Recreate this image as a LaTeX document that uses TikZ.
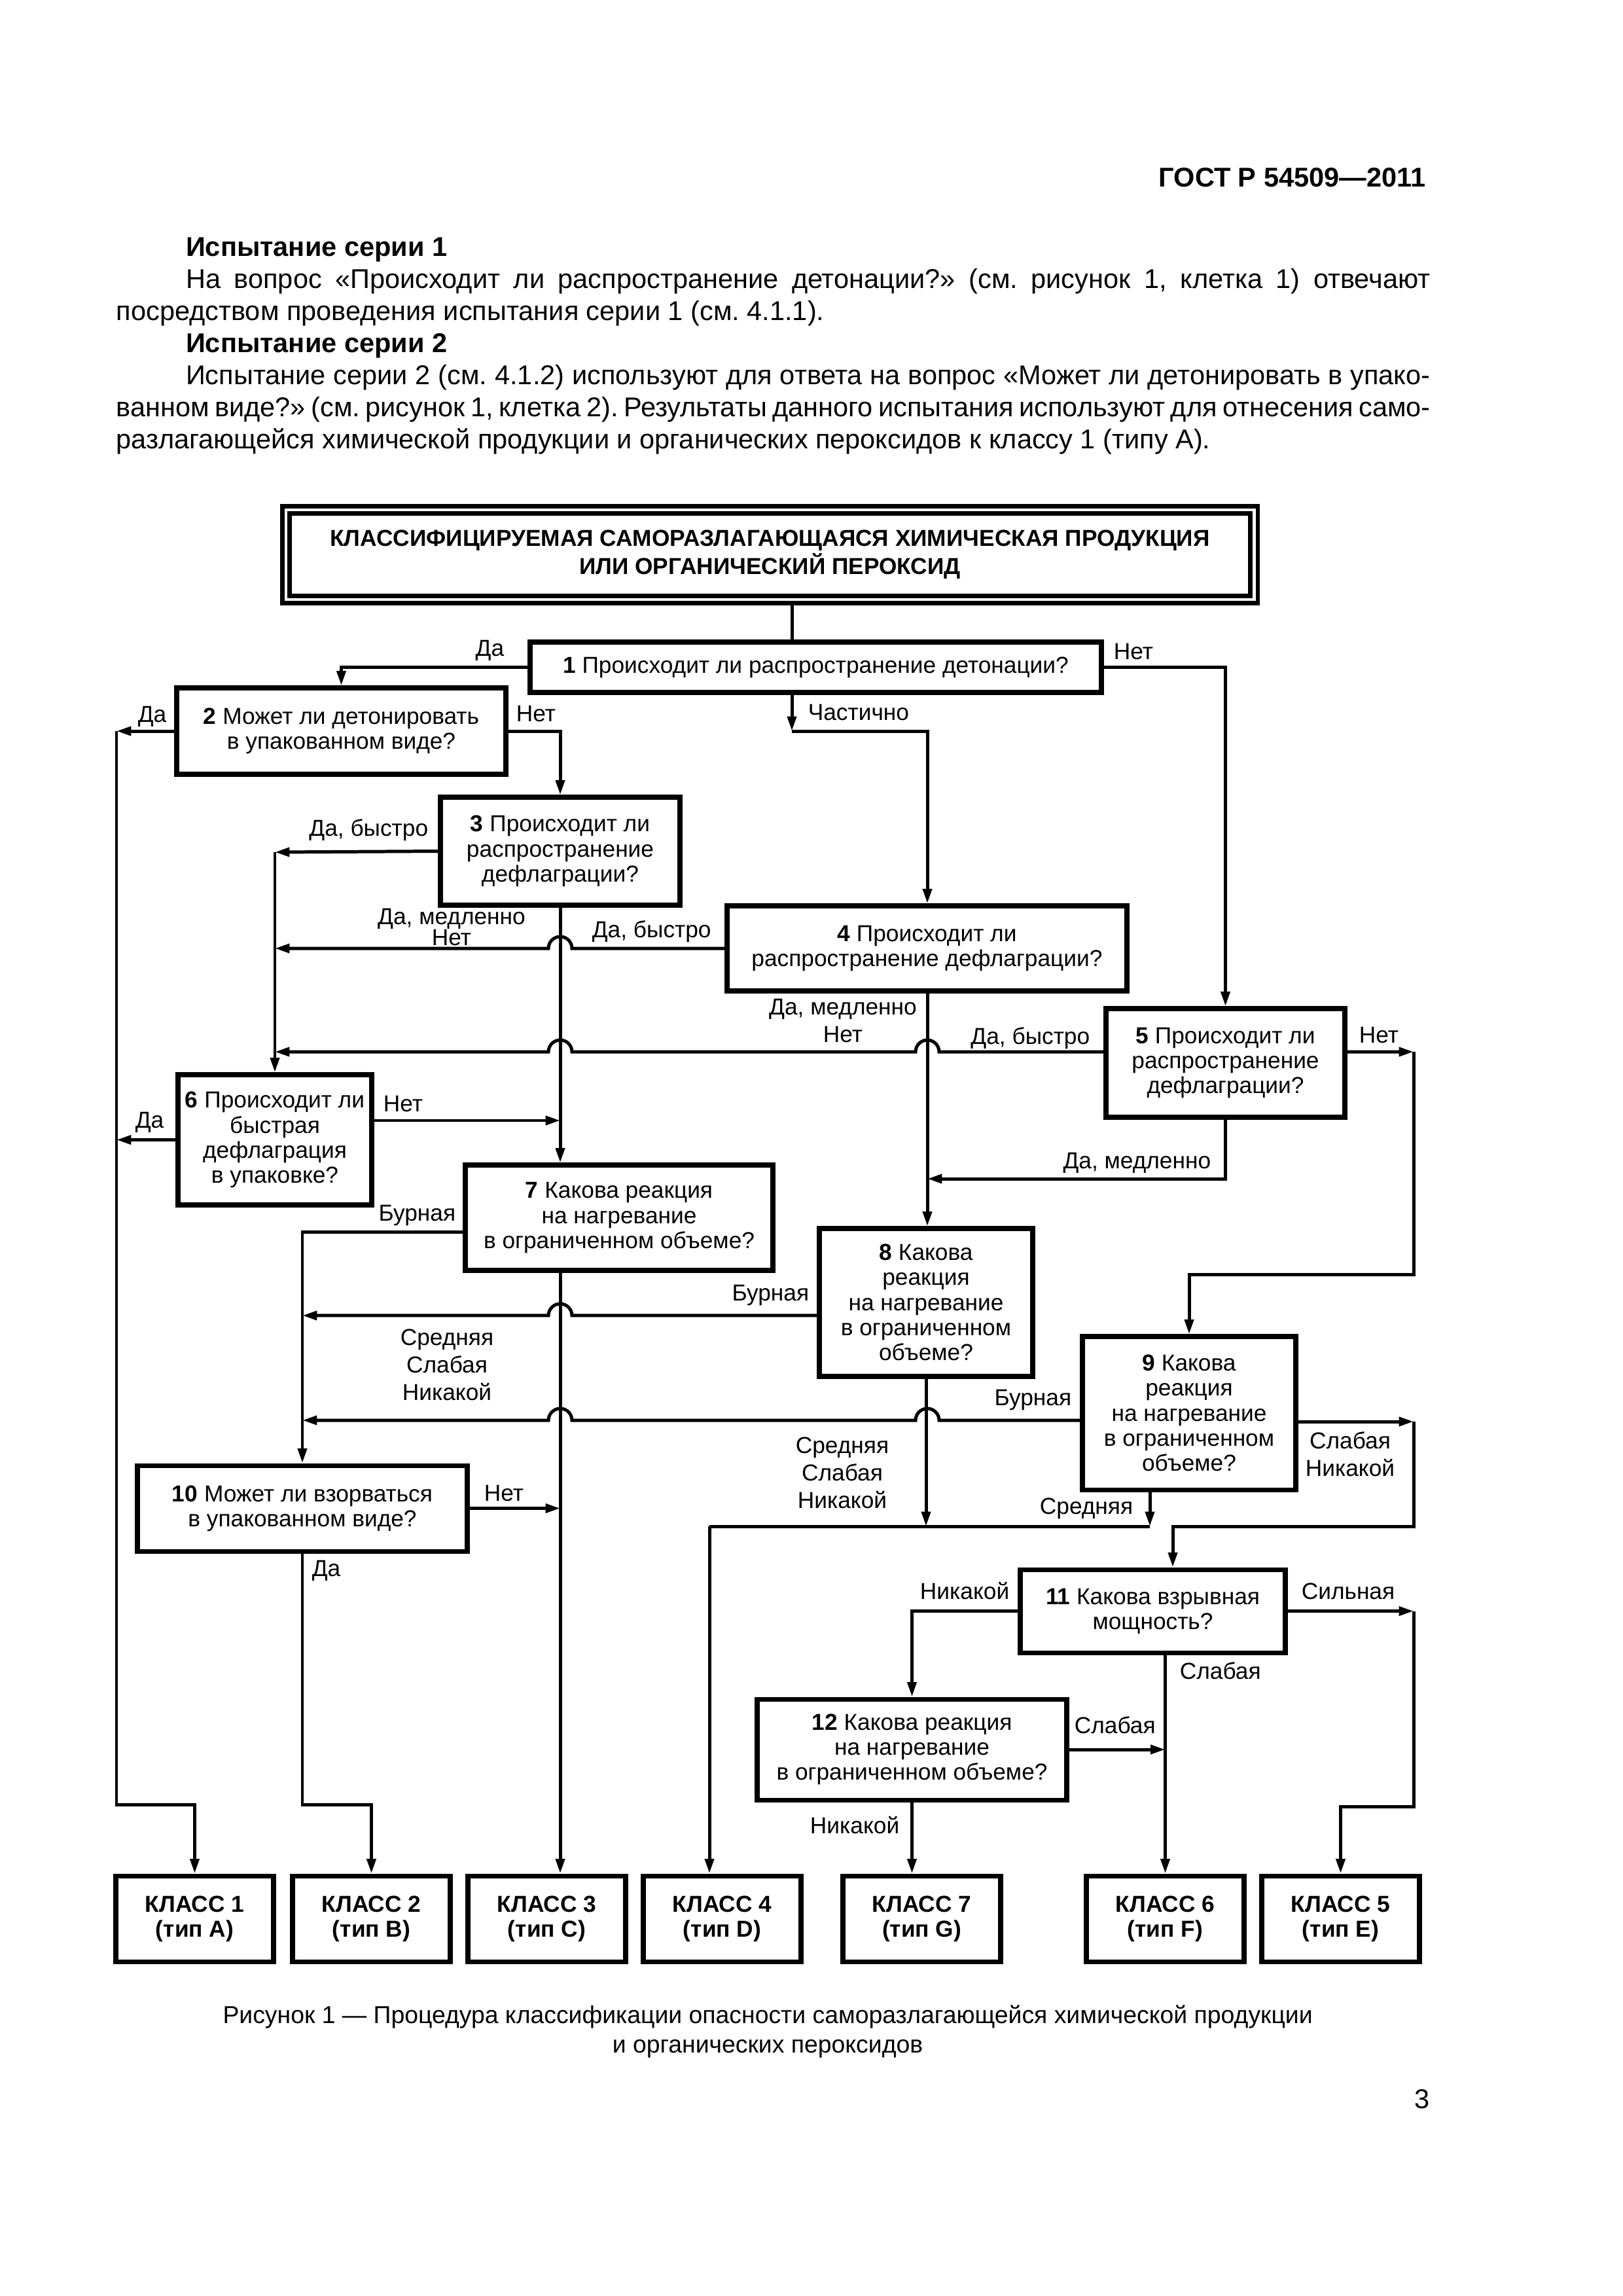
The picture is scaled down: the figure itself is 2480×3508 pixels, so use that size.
\documentclass[tikz,border=0pt]{standalone}
\usepackage{fontspec}
\setmainfont{Liberation Sans}
\usetikzlibrary{arrows.meta}
\def\pxu{0.0846774mm}
\newcommand\diagfont{\fontsize{8.5}{9.2}\selectfont}
\tikzset{
    question-box/.style 2 args = {draw, line width=1.7pt, fill=white, inner sep=0pt, align=center, font=\diagfont, minimum width=#1*\pxu, minimum height=#2*\pxu},
    class-box/.style = {question-box={241}{131}, font=\diagfont\bfseries},
    title-box/.style = {draw, line width=0.59mm, double, double distance=0.42mm, fill=white, inner sep=0pt, outer sep=0.8mm, align=center, font=\fontsize{8.5}{8.9}\selectfont\bfseries, minimum width=1479*\pxu, minimum height=137*\pxu},
    flow-line/.style = {line width=1.2pt},
    flow-arrow/.style = {flow-line, -{Triangle[length=1.9mm, width=1.15mm]}},
    flow-label/.style = {inner sep=0pt, font=\diagfont},
    flow-stack/.style = {inner sep=0pt, align=center, font=\fontsize{8.5}{10.1}\selectfont},
}
\begin{document}
\begin{tikzpicture}[x=\pxu, y=-\pxu]
\useasboundingbox (0,0) rectangle (2480,3508);

\node[anchor=base east, inner sep=0pt, font=\fontsize{10}{12}\selectfont\bfseries] (gost) at (2179,285) {ГОСТ Р 54509—2011};
\node[anchor=north west, inner sep=0pt, text width=170mm, align=justify, font=\fontsize{10}{11.8}\selectfont] (intro) at (177,362) {\setlength{\parindent}{0pt}\frenchspacing
\hspace*{9mm}\textbf{Испытание серии 1}\par
\hspace*{9mm}На вопрос «Происходит ли распространение детонации?» (см. рисунок 1, клетка 1) отвечают\linebreak посредством проведения испытания серии 1 (см. 4.1.1).\par
\hspace*{9mm}\textbf{Испытание серии 2}\par
\hspace*{9mm}Испытание серии 2 (см. 4.1.2) используют для ответа на вопрос «Может ли детонировать в упако-\linebreak {\spaceskip=0.14em plus 0.3em minus 0.02em ванном виде?» (см. рисунок 1, клетка 2). Результаты данного испытания используют для отнесения само-}\linebreak разлагающейся химической продукции и органических пероксидов к классу 1 (типу А).};

\node[title-box] (tb) at (1176.5,847.5) {КЛАССИФИЦИРУЕМАЯ САМОРАЗЛАГАЮЩАЯСЯ ХИМИЧЕСКАЯ ПРОДУКЦИЯ\\ИЛИ ОРГАНИЧЕСКИЙ ПЕРОКСИД};
\node[question-box={873}{77}] (b1) at (1246.5,1019.5) {\textbf{1} Происходит ли распространение детонации?};
\node[question-box={503}{132}] (b2) at (521.5,1117) {\textbf{2} Может ли детонировать\\в упакованном виде?};
\node[question-box={366}{165}] (b3) at (856,1300.5) {\textbf{3} Происходит ли\\распространение\\дефлаграции?};
\node[question-box={611}{130}] (b4) at (1416.5,1449) {\textbf{4} Происходит ли\\распространение дефлаграции?};
\node[question-box={365}{166}] (b5) at (1872.5,1624) {\textbf{5} Происходит ли\\распространение\\дефлаграции?};
\node[question-box={296}{199}] (b6) at (420,1741.5) {\textbf{6} Происходит ли\\быстрая\\дефлаграция\\в упаковке?};
\node[question-box={470}{161}] (b7) at (946,1860.5) {\textbf{7} Какова реакция\\на нагревание\\в ограниченном объеме?};
\node[question-box={326}{226}] (b8) at (1415,1990) {\textbf{8} Какова\\реакция\\на нагревание\\в ограниченном\\объеме?};
\node[question-box={326}{234}] (b9) at (1817,2159) {\textbf{9} Какова\\реакция\\на нагревание\\в ограниченном\\объеме?};
\node[question-box={504}{131}] (b10) at (462,2304.5) {\textbf{10} Может ли взорваться\\в упакованном виде?};
\node[question-box={405}{127}] (b11) at (1761.5,2461.5) {\textbf{11} Какова взрывная\\мощность?};
\node[question-box={473}{154}] (b12) at (1393.5,2673) {\textbf{12} Какова реакция\\на нагревание\\в ограниченном объеме?};

\node[class-box] (c1) at (297.5,2931.5) {КЛАСС 1\\(тип A)};
\node[class-box] (c2) at (567.5,2931.5) {КЛАСС 2\\(тип B)};
\node[class-box] (c3) at (835.5,2931.5) {КЛАСС 3\\(тип C)};
\node[class-box] (c4) at (1103.5,2931.5) {КЛАСС 4\\(тип D)};
\node[class-box] (c7) at (1408.5,2931.5) {КЛАСС 7\\(тип G)};
\node[class-box] (c6) at (1780.5,2931.5) {КЛАСС 6\\(тип F)};
\node[class-box] (c5) at (2048.5,2931.5) {КЛАСС 5\\(тип E)};

\coordinate (k4) at (1210,1117);
\coordinate (k4b) at (1417,1117);
\coordinate (t1) at (178,1117);
\coordinate (t1b) at (178,2757);
\coordinate (t2) at (420,1302);
\coordinate (q5) at (2160,1607);
\coordinate (q9) at (2160,1947);
\coordinate (m8) at (1417,1801);
\coordinate (hl) at (1084,2332);
\coordinate (hr) at (1757,2332);
\coordinate (q11) at (2160,2332);
\coordinate (n11) at (1792,2332);
\coordinate (d10) at (462,2757);
\coordinate (s5) at (2160,2760);
\coordinate (r5) at ([yshift=1.44mm]b5.west);
\coordinate (r5e) at ([yshift=1.44mm]b5.east);
\coordinate (o6) at ([yshift=2.5mm]b6.east);
\coordinate (o7) at ([yshift=-1.82mm]b7.west);
\coordinate (o8) at ([yshift=-1.69mm]b8.west);
\coordinate (o9) at ([yshift=-0.93mm]b9.west);
\coordinate (o9e) at ([yshift=-1.1mm]b9.east);

\draw[flow-line] (tb.south -| k4) -- (b1.north -| k4);
\draw[flow-arrow] (b1.west) -| (b2.north);
\draw[flow-arrow] (b1.east) -| (b5.north);
\draw[flow-arrow] (b1.south -| k4) -- (k4);
\draw[flow-arrow] (k4) -- (k4b) -- (b4.north -| k4b);
\draw[flow-arrow] (b2.west) -- (t1);
\draw[flow-arrow] (t1) -- (t1b) -| (c1.north);
\draw[flow-arrow] (b2.east) -| (b3.north);
\draw[flow-arrow] (b3.west) -- (t2);
\draw[flow-arrow] (t2) -- (b6.north);
\draw[flow-arrow] (b3.south) -- (b7.north -| b3.south);
\draw[flow-arrow] (b7.south -| b3.south) -- (c3.north -| b3.south);
\draw[flow-arrow] (b4.west) -- ([xshift=1.52mm]b3.south |- b4.west) arc[start angle=0, end angle=180, radius=1.52mm] -- (t2 |- b4.west);
\draw[flow-arrow] (b4.south -| k4b) -- (b8.north -| k4b);
\draw[flow-arrow] (r5) -- ([xshift=1.52mm]k4b |- r5) arc[start angle=0, end angle=180, radius=1.52mm] -- ([xshift=1.52mm]b3.south |- r5) arc[start angle=0, end angle=180, radius=1.52mm] -- (t2 |- r5);
\draw[flow-arrow] (r5e) -- (q5);
\draw[flow-arrow] (q5) -- (q9) -| (b9.north);
\draw[flow-arrow] (b5.south) |- (m8);
\draw[flow-arrow] (b6.west) -- (t1 |- b6.west);
\draw[flow-arrow] (o6) -- (o6 -| b3.south);
\draw[flow-arrow] (o7) -| (b10.north);
\draw[flow-arrow] (o8) -- ([xshift=1.52mm]b3.south |- o8) arc[start angle=0, end angle=180, radius=1.52mm] -- (b10.north |- o8);
\draw[flow-arrow] (b8.south) -- (b8.south |- hl);
\draw[flow-line] (hr) -- (hl);
\draw[flow-arrow] (hl) -- (c4.north -| hl);
\draw[flow-arrow] (o9) -- ([xshift=1.52mm]k4b |- o9) arc[start angle=0, end angle=180, radius=1.52mm] -- ([xshift=1.52mm]b3.south |- o9) arc[start angle=0, end angle=180, radius=1.52mm] -- (b10.north |- o9);
\draw[flow-arrow] (o9e) -- (o9e -| q11);
\draw[flow-arrow] (o9e -| q11) -- (q11) -- (n11) -- (b11.north -| n11);
\draw[flow-arrow] (b9.south -| hr) -- (hr);
\draw[flow-arrow] (b10.east) -- (b10.east -| b3.south);
\draw[flow-arrow] (b10.south) -- (d10) -| (c2.north);
\draw[flow-arrow] (b11.west) -| (b12.north);
\draw[flow-arrow] (b11.east) -- (b11.east -| q11);
\draw[flow-arrow] (b11.east -| q11) -- (s5) -| (c5.north);
\draw[flow-arrow] (b11.south -| c6.north) -- (c6.north);
\draw[flow-arrow] (b12.east) -- (b12.east -| c6.north);
\draw[flow-arrow] (b12.south) -- (b12.south |- c7.north);

\node[flow-label, anchor=base east] (l1y) at (771,1002) {Да};
\node[flow-label, anchor=base west] (l1p) at (1234,1100) {Частично};
\node[flow-label, anchor=base west] (l1n) at (1701,1007) {Нет};
\node[flow-label, anchor=base west] (l2y) at (210,1103) {Да};
\node[flow-label, anchor=base west] (l2n) at (788,1102) {Нет};
\node[flow-label, anchor=base east] (l3f) at (655,1277) {Да, быстро};
\node[flow-stack, anchor=north] (l3s) at (690,1387) {Да, медленно\\[-2.2pt]Нет};
\node[flow-label, anchor=base west] (l4f) at (904,1432) {Да, быстро};
\node[flow-stack, anchor=north] (l4s) at (1288,1525) {Да, медленно\\Нет};
\node[flow-label, anchor=base east] (l5f) at (1666,1595) {Да, быстро};
\node[flow-label, anchor=base west] (l5n) at (2076,1593) {Нет};
\node[flow-label, anchor=base east] (l5s) at (1851,1785) {Да, медленно};
\node[flow-label, anchor=base west] (l6y) at (206,1723) {Да};
\node[flow-label, anchor=base west] (l6n) at (585,1698) {Нет};
\node[flow-label, anchor=base east] (l7b) at (697,1865) {Бурная};
\node[flow-stack, anchor=north] (l7r) at (683,2030) {Средняя\\Слабая\\Никакой};
\node[flow-label, anchor=base east] (l8b) at (1237,1987) {Бурная};
\node[flow-stack, anchor=north] (l8r) at (1287,2195) {Средняя\\Слабая\\Никакой};
\node[flow-label, anchor=base east] (l9b) at (1638,2147) {Бурная};
\node[flow-stack, anchor=north] (l9r) at (2063,2187) {Слабая\\Никакой};
\node[flow-label, anchor=base east] (l9m) at (1732,2313) {Средняя};
\node[flow-label, anchor=base west] (l10n) at (739,2293) {Нет};
\node[flow-label, anchor=base west] (l10y) at (476,2408) {Да};
\node[flow-label, anchor=base east] (l11n) at (1543,2443) {Никакой};
\node[flow-label, anchor=base west] (l11s) at (1988,2443) {Сильная};
\node[flow-label, anchor=base west] (l11w) at (1802,2565) {Слабая};
\node[flow-label, anchor=base west] (l12w) at (1641,2648) {Слабая};
\node[flow-label, anchor=base east] (l12n) at (1375,2801) {Никакой};

\node[anchor=north, inner sep=0pt, align=center, font=\fontsize{9}{10.8}\selectfont] (caption) at (1173,3063) {Рисунок 1 — Процедура классификации опасности саморазлагающейся химической продукции\\и органических пероксидов};
\node[anchor=base east, inner sep=0pt, font=\fontsize{10}{12}\selectfont] (pagenum) at (2185,3221) {3};
\end{tikzpicture}
\end{document}
